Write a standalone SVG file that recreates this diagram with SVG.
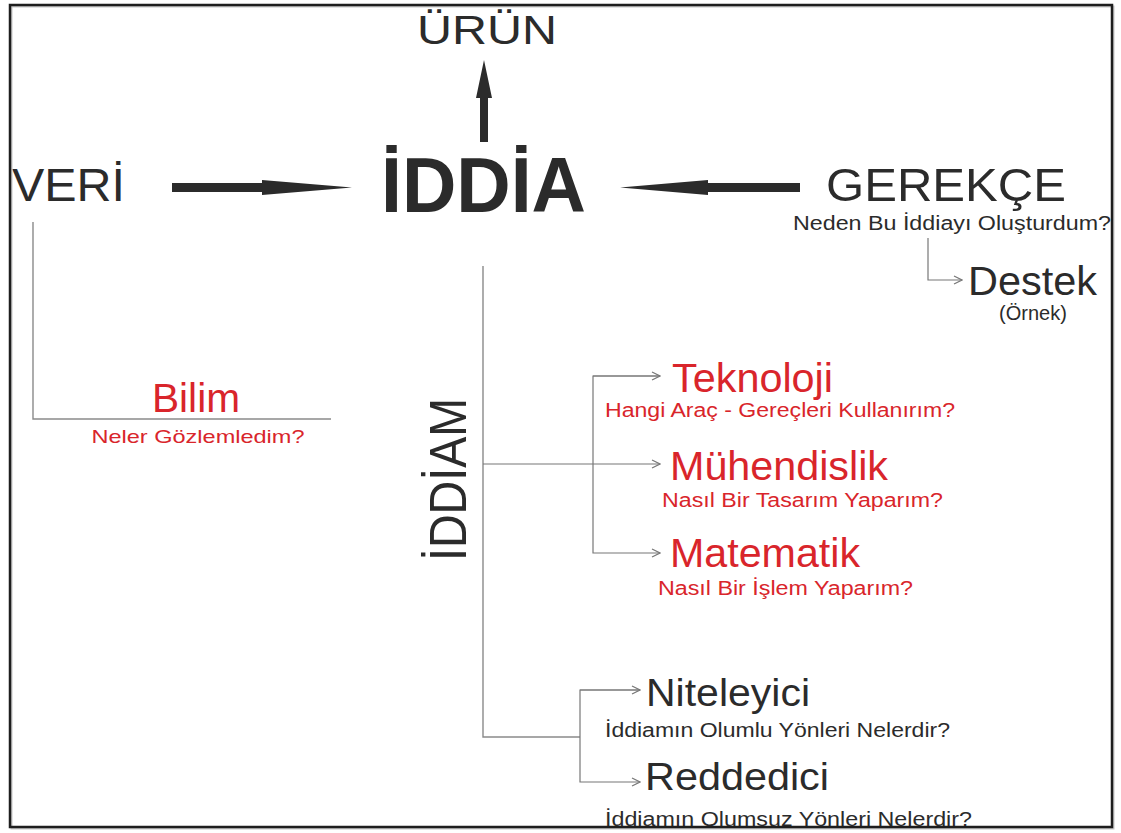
<svg xmlns="http://www.w3.org/2000/svg" width="1121" height="833" viewBox="0 0 1121 833">
<defs>
<marker id="chev" viewBox="0 0 10 10" refX="9" refY="5" markerWidth="10" markerHeight="10" markerUnits="userSpaceOnUse" orient="auto">
<path d="M1,1 L9,5 L1,9" fill="none" stroke="#777" stroke-width="1.2"/>
</marker>
<style>
text{font-family:"Liberation Sans",Arial,sans-serif;fill:#2b2b2b}
.red{fill:#d9252b}
.thin{fill:none;stroke:#8a8a8a;stroke-width:1.4}
.arr{fill:none;stroke:#777;stroke-width:1.2}
.big{fill:#2b2b2b}
</style>
</defs>
<rect width="1121" height="833" fill="#fff"/>

<g id="connectors">
<path class="big" d="M480,142 L480,98 L476,98 L484,60 L492,98 L488,98 L488,142 Z"/>
<path class="big" d="M172,183 L262,183 L262,180 L352,187.5 L262,195 L262,192 L172,192 Z"/>
<path class="big" d="M800,183 L708,183 L708,180 L620,187.5 L708,195 L708,192 L800,192 Z"/>
<path class="thin" d="M33,222 L33,419 L331,419"/>
<path class="thin" d="M483,266 L483,737 L580,737"/>
<path class="arr" d="M928,238 L928,280 L962,280" marker-end="url(#chev)"/>
<path class="arr" d="M483,464 L660,464" marker-end="url(#chev)"/>
<path class="arr" d="M660,376 L593,376 L593,553 L660,553" marker-end="url(#chev)"/>
<path class="arr" d="M593,376 L660,376" marker-end="url(#chev)"/>
<path class="arr" d="M640,690 L580,690 L580,782 L640,782" marker-end="url(#chev)"/>
<path class="arr" d="M580,690 L640,690" marker-end="url(#chev)"/>
</g>

<g id="urun"><text x="487" y="44" font-size="41" text-anchor="middle" textLength="140" lengthAdjust="spacingAndGlyphs">ÜRÜN</text></g>
<g id="veri"><text x="12" y="201" font-size="47" textLength="113" lengthAdjust="spacingAndGlyphs">VERİ</text></g>
<g id="iddia"><text x="381" y="212" font-size="78" font-weight="bold" textLength="205" lengthAdjust="spacingAndGlyphs">İDDİA</text></g>
<g id="gerekce">
<text x="826" y="201" font-size="47" textLength="240" lengthAdjust="spacingAndGlyphs">GEREKÇE</text>
<text x="793" y="230" font-size="20" textLength="318" lengthAdjust="spacingAndGlyphs">Neden Bu İddiayı Oluşturdum?</text>
</g>
<g id="destek">
<text x="968" y="295" font-size="40" textLength="129" lengthAdjust="spacingAndGlyphs">Destek</text>
<text x="1033" y="320" font-size="20" text-anchor="middle">(Örnek)</text>
</g>
<g id="bilim">
<text class="red" x="196" y="412" font-size="40" text-anchor="middle" textLength="88" lengthAdjust="spacingAndGlyphs">Bilim</text>
<text class="red" x="198" y="443" font-size="19" text-anchor="middle" textLength="213" lengthAdjust="spacingAndGlyphs">Neler Gözlemledim?</text>
</g>
<g id="iddiam"><text transform="translate(466,561) rotate(-90)" font-size="51" textLength="163" lengthAdjust="spacingAndGlyphs">İDDİAM</text></g>
<g id="teknoloji">
<text class="red" x="672" y="392" font-size="41" textLength="161" lengthAdjust="spacingAndGlyphs">Teknoloji</text>
<text class="red" x="605" y="417" font-size="20" textLength="350" lengthAdjust="spacingAndGlyphs">Hangi Araç - Gereçleri Kullanırım?</text>
</g>
<g id="muhendislik">
<text class="red" x="670" y="480" font-size="41" textLength="218" lengthAdjust="spacingAndGlyphs">Mühendislik</text>
<text class="red" x="662" y="507" font-size="20" textLength="281" lengthAdjust="spacingAndGlyphs">Nasıl Bir Tasarım Yaparım?</text>
</g>
<g id="matematik">
<text class="red" x="670" y="567" font-size="41" textLength="190" lengthAdjust="spacingAndGlyphs">Matematik</text>
<text class="red" x="658" y="595" font-size="20" textLength="255" lengthAdjust="spacingAndGlyphs">Nasıl Bir İşlem Yaparım?</text>
</g>
<g id="niteleyici">
<text x="646" y="706" font-size="39" textLength="164" lengthAdjust="spacingAndGlyphs">Niteleyici</text>
<text x="605" y="737" font-size="20" textLength="345" lengthAdjust="spacingAndGlyphs">İddiamın Olumlu Yönleri Nelerdir?</text>
</g>
<g id="reddedici">
<text x="645" y="790" font-size="39" textLength="184" lengthAdjust="spacingAndGlyphs">Reddedici</text>
<text x="605" y="826" font-size="20" textLength="367" lengthAdjust="spacingAndGlyphs">İddiamın Olumsuz Yönleri Nelerdir?</text>
</g>

<rect x="11.5" y="6.5" width="1102" height="822" fill="none" stroke="#c8c8c8" stroke-width="2"/>
<rect x="10" y="5" width="1102" height="822" fill="none" stroke="#1e1e1e" stroke-width="2.5"/>
</svg>
